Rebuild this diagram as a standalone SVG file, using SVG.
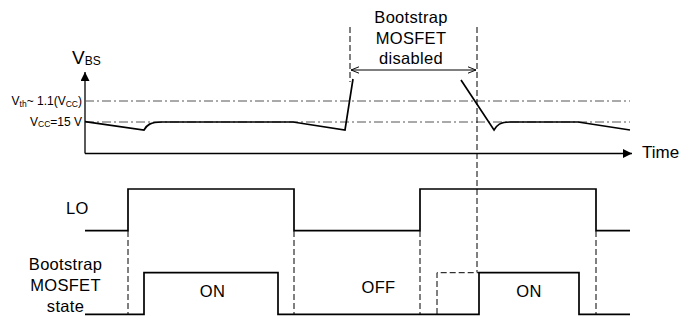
<svg xmlns="http://www.w3.org/2000/svg" width="696" height="321" viewBox="0 0 696 321">
<style>
text{font-family:"Liberation Sans",Arial,sans-serif;fill:#000}
.sig{fill:none;stroke:#000;stroke-width:1.7;stroke-linejoin:miter}
.axis{fill:none;stroke:#000;stroke-width:1.3}
.dash{fill:none;stroke:#000;stroke-width:1;stroke-dasharray:6,3}
.dd{fill:none;stroke:#555;stroke-width:1;stroke-dasharray:9,3,2,3}
.lbl{font-size:16.5px;letter-spacing:0.3px}
</style>
<defs>
<marker id="tri" viewBox="0 0 10 10" refX="10" refY="5" markerWidth="13" markerHeight="9" markerUnits="userSpaceOnUse" orient="auto">
<path d="M0,0 L10,5 L0,10 Z" fill="#000"/>
</marker>
<marker id="open" viewBox="0 0 10 10" refX="10" refY="5" markerWidth="8" markerHeight="8" markerUnits="userSpaceOnUse" orient="auto-start-reverse">
<path d="M0,1 L10,5 L0,9" fill="none" stroke="#000" stroke-width="1.2"/>
</marker>
</defs>

<g id="axes">
<line class="axis" x1="85" y1="153.5" x2="85" y2="72" marker-end="url(#tri)"/>
<line class="axis" x1="85" y1="153.5" x2="632" y2="153.5" marker-end="url(#tri)"/>
<text x="72" y="64" style="font-size:19px">V<tspan style="font-size:12px" dy="1">BS</tspan></text>
<text x="642" y="158" style="font-size:17px">Time</text>
</g>

<g id="thresholds">
<line class="dd" x1="85" y1="101" x2="630" y2="101"/>
<line class="dd" x1="85" y1="122" x2="630" y2="122"/>
<text x="82" y="105" text-anchor="end" style="font-size:12px">V<tspan style="font-size:8.5px" dy="1.5">th</tspan><tspan dy="-1.5">~ 1.1(V</tspan><tspan style="font-size:8.5px" dy="1.5">CC</tspan><tspan dy="-1.5">)</tspan></text>
<text x="82" y="125.5" text-anchor="end" style="font-size:12px">V<tspan style="font-size:8.5px" dy="1.5">CC</tspan><tspan dy="-1.5">=15 V</tspan></text>
</g>

<g id="vbs-curve">
<path class="sig" d="M85,121.7 L144,130 C147,125 150,122 162,122 L293,122 L345,130 L353,79"/>
<path class="sig" d="M461,80 L494,130 C497,125 500,122 510,122 L578,122 L630,130"/>
</g>

<g id="disabled-window">
<line class="dash" x1="350" y1="27" x2="350" y2="82"/>
<line class="dash" x1="477" y1="27" x2="477" y2="272"/>
<line x1="351" y1="70" x2="476" y2="70" stroke="#000" stroke-width="1" marker-start="url(#open)" marker-end="url(#open)"/>
<text class="lbl" text-anchor="middle" x="411" y="23">Bootstrap</text>
<text class="lbl" text-anchor="middle" x="411" y="43.5">MOSFET</text>
<text class="lbl" text-anchor="middle" x="411" y="64">disabled</text>
</g>

<g id="lo">
<path class="sig" d="M85,230.7 L128,230.7 L128,189 L294,189 L294,230.7 L420,230.7 L420,189 L596,189 L596,230.7 L630,230.7"/>
<text class="lbl" x="66" y="214">LO</text>
</g>

<g id="mosfet-state">
<path class="sig" d="M85,314.3 L144,314.3 L144,272.7 L278,272.7 L278,314.3 L479,314.3 L479,272.7 L579,272.7 L579,314.3 L630,314.3"/>
<path class="dash" d="M437,314 L437,272.7 L479,272.7"/>
<text class="lbl" text-anchor="middle" x="65.5" y="270">Bootstrap</text>
<text class="lbl" text-anchor="middle" x="65.5" y="291">MOSFET</text>
<text class="lbl" text-anchor="middle" x="65.5" y="312">state</text>
<text class="lbl" text-anchor="middle" x="212.5" y="297">ON</text>
<text class="lbl" text-anchor="middle" x="378.5" y="293">OFF</text>
<text class="lbl" text-anchor="middle" x="529" y="297">ON</text>
</g>

<g id="connectors">
<line class="dash" x1="128" y1="231" x2="128" y2="314"/>
<line class="dash" x1="294" y1="231" x2="294" y2="314"/>
<line class="dash" x1="420" y1="231" x2="420" y2="314"/>
<line class="dash" x1="596" y1="231" x2="596" y2="314"/>
</g>
</svg>
